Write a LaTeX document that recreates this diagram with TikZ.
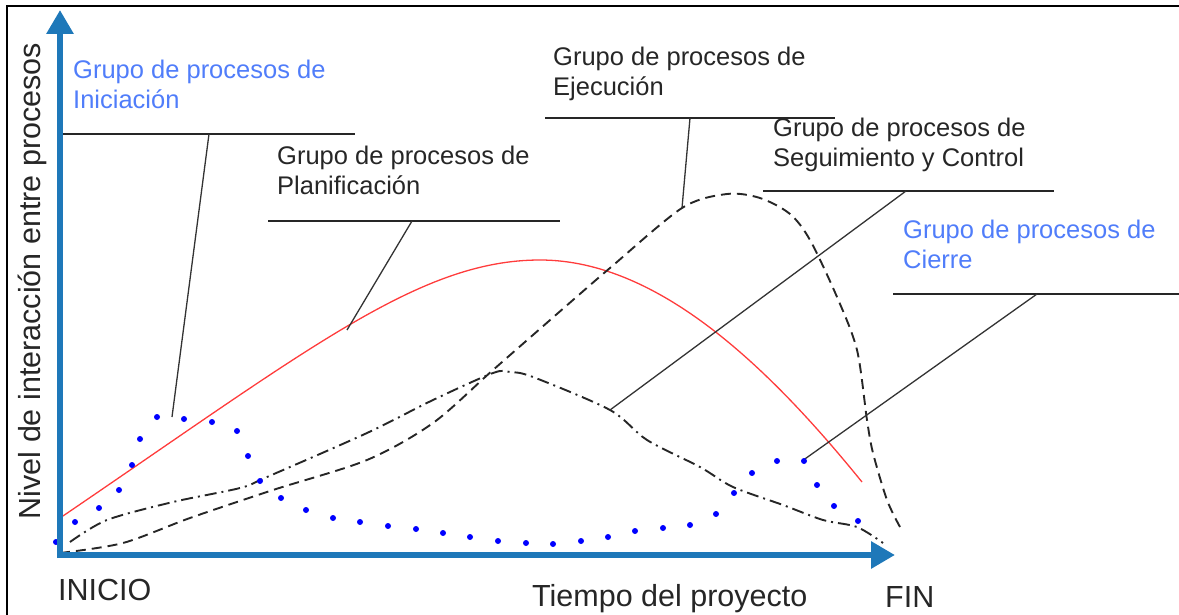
\documentclass[tikz,border=0pt]{standalone}
\usepackage{fontspec}
\setmainfont{Liberation Sans}
\usetikzlibrary{arrows.meta}
\definecolor{axisblue}{RGB}{30,120,185}
\definecolor{labelblue}{RGB}{80,125,250}
\definecolor{dotblue}{RGB}{0,0,255}
\definecolor{curvered}{RGB}{255,60,60}
\begin{document}
\begin{tikzpicture}[x=1pt,y=-1pt,
    grupo/.style={anchor=base west, inner sep=0pt, align=left, text=black!85,
      font=\fontsize{25.5}{30}\selectfont},
    axislabel/.style={anchor=base west, inner sep=0pt, text=black!85,
      font=\fontsize{30.5}{36}\selectfont},
    shelf/.style={black!85, line width=2pt},
    leader/.style={black!80, line width=1.3pt},
    axis/.style={axisblue, line width=6pt, -{Triangle[width=26pt,length=24pt]}}]
    \useasboundingbox (0,0) rectangle (1179,615);
    % frame
    \draw[black, line width=2pt] (1179,6) -- (7,6) -- (7,615);

    % curves
    \draw[curvered, line width=1.3pt] (60,518) .. controls (310,348) and (420,260) .. (540,260)
      .. controls (660,260) and (772,371) .. (862,482);
    \draw[black!85, line width=1.9pt, dash pattern=on 10pt off 6pt] plot[smooth, tension=0.5] coordinates
      {(60,553) (123,543) (190,518) (273,490) (367,460) (433,423) (493,370) (573,300) (610,268)
       (682,208) (727,194) (760,198) (790,214) (810,240) (837,297) (857,350) (867,420) (873,453)
       (887,500) (900,527)};
    \draw[black!85, line width=1.9pt, dash pattern=on 12pt off 5pt on 2pt off 5pt] plot[smooth, tension=0.5] coordinates
      {(70,542) (107,520) (173,502) (240,488) (267,477) (367,433) (433,400) (493,373) (510,372)
       (533,377) (610,410) (647,440) (700,467) (733,487) (783,505) (823,520) (857,527) (883,543)};

    % group labels
    \node[grupo, text=labelblue] (ini) at (73,109) {Grupo de procesos de\\Iniciación};
    \node[grupo] (pla) at (277,195) {Grupo de procesos de\\Planificación};
    \node[grupo] (eje) at (553,96) {Grupo de procesos de\\Ejecución};
    \node[grupo] (seg) at (773,167) {Grupo de procesos de\\Seguimiento y Control};
    \node[grupo, text=labelblue] (cie) at (903,269) {Grupo de procesos de\\Cierre};

    % shelves and leaders
    \coordinate (ini-l) at (63,134);   \coordinate (ini-r) at (355,134);
    \coordinate (ini-k) at (209,134);  \coordinate (ini-e) at (172,417);
    \coordinate (pla-l) at (268,221);  \coordinate (pla-r) at (560,221);
    \coordinate (pla-k) at (412,221);  \coordinate (pla-e) at (347,330);
    \coordinate (eje-l) at (545,118);  \coordinate (eje-r) at (835,118);
    \coordinate (eje-k) at (690,118);  \coordinate (eje-e) at (682,208);
    \coordinate (seg-l) at (763,191);  \coordinate (seg-r) at (1054,191);
    \coordinate (seg-k) at (906,191);  \coordinate (seg-e) at (610,410);
    \coordinate (cie-l) at (893,294);  \coordinate (cie-r) at (1179,294);
    \coordinate (cie-k) at (1037,294); \coordinate (cie-e) at (802,461);
    \foreach \g in {ini,pla,eje,seg,cie} {
      \draw[shelf] (\g-l) -- (\g-r);
      \draw[leader] (\g-k) -- (\g-e);
    }

    % dotted curve
    \foreach \p in {(56,542),(75,522),(99,508),(119,490),(132,465),(140,439),(157,417),
        (184,419),(212,422),(237,431),(248,456),(260,481),(281,498),(306,510),(333,518),
        (360,522),(388,526),(416,529),(443,533),(470,537),(498,541),(526,543),(553,544),
        (581,541),(608,537),(635,531),(663,528),(690,525),(716,514),(734,493),(752,473),
        (777,461),(804,461),(817,485),(834,506),(858,521)}
      \fill[dotblue] \p circle (3pt);

    % axes
    \draw[axis] (60,558) -- (60,10);
    \draw[axis] (57,555) -- (895,555);
    \node[axislabel] (inicio) at (58,600) {INICIO};
    \node[axislabel] (tiempo) at (532,606) {Tiempo del proyecto};
    \node[axislabel] (fin) at (885,607) {FIN};
    \node[axislabel, anchor=base, rotate=90] (nivel) at (40,281) {Nivel de interacción entre procesos};
\end{tikzpicture}
\end{document}
